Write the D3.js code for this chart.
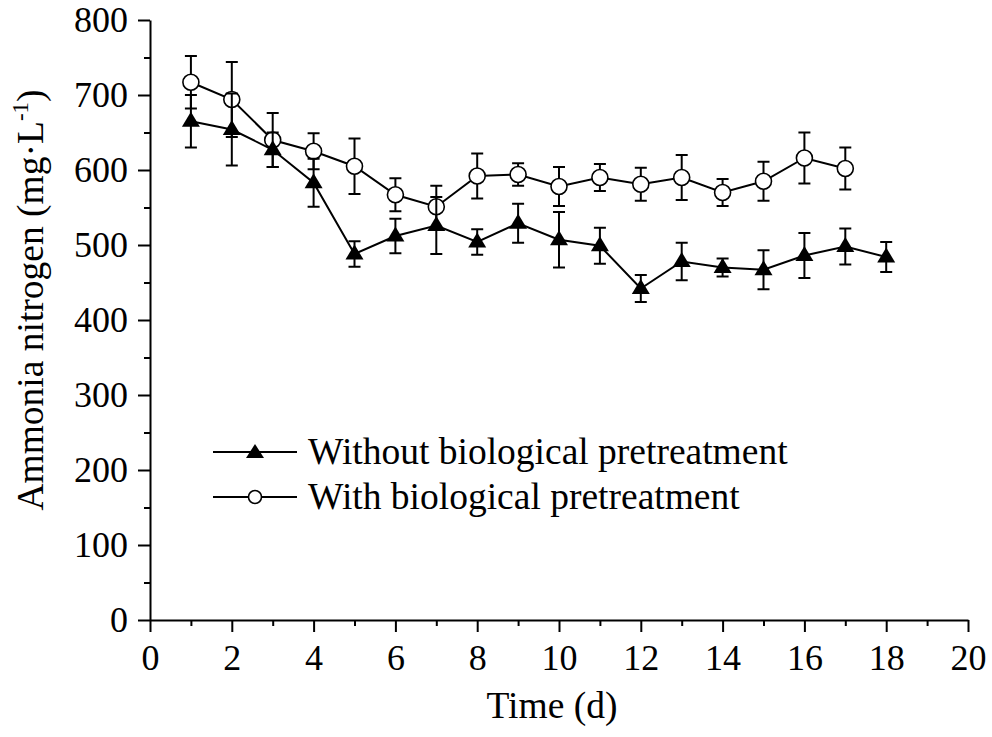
<!DOCTYPE html>
<html>
<head>
<meta charset="utf-8">
<script src="https://cdn.jsdelivr.net/npm/d3@7"></script>
<style>
  body { margin: 0; background: #fff; }
  text { font-family: "Liberation Serif", "Times New Roman", serif; fill: #000; }
</style>
</head>
<body>
<div id="chart"></div>
<script>
// chart data
const daysWithout = [1, 2, 3, 4, 5, 6, 7, 8, 9, 10, 11, 12, 13, 14, 15, 16, 17, 18];
const without = [665, 654, 627, 583, 488, 512, 526, 504, 529, 507, 499, 442, 478, 470, 467, 486, 498, 484];
const withoutErr = [35, 48, 23, 32, 17, 23, 38, 17, 26, 37, 24, 18, 25, 12, 26, 30, 24, 20];

const daysWith = [1, 2, 3, 4, 5, 6, 7, 8, 9, 10, 11, 12, 13, 14, 15, 16, 17];
const withBio = [717, 694, 640, 625, 605, 567, 551, 592, 594, 578, 590, 581, 590, 570, 585, 616, 602];
const withErr = [35, 50, 36, 24, 37, 22, 28, 30, 15, 26, 18, 22, 30, 18, 26, 34, 28];

const xTicks = [0, 2, 4, 6, 8, 10, 12, 14, 16, 18, 20];
const yTicks = [0, 100, 200, 300, 400, 500, 600, 700, 800];
const legendLabels = ["Without biological pretreatment", "With biological pretreatment"];

const width = 992, height = 737;
const margin = {top: 20, right: 24, bottom: 117, left: 150};
const FONT = 36;      // tick labels
const TITLE_FONT = 37.5;  // axis titles + legend

let svg = d3.select("#chart")
    .append("svg")
    .attr("width", width)
    .attr("height", height);

let x = d3.scaleLinear().domain([0, 20]).range([margin.left, width - margin.right]);
let y = d3.scaleLinear().domain([0, 800]).range([height - margin.bottom, margin.top]);

// minor ticks first, majors on top
svg.append("g")
    .attr("transform", `translate(0, ${y(0)})`)
    .call(d3.axisBottom(x).tickValues(d3.range(1, 20, 2)).tickSize(6).tickSizeOuter(0).tickFormat(""))
    .call(g => g.select(".domain").remove());
svg.append("g")
    .attr("transform", `translate(${x(0)}, 0)`)
    .call(d3.axisLeft(y).tickValues(d3.range(50, 800, 100)).tickSize(6).tickSizeOuter(0).tickFormat(""))
    .call(g => g.select(".domain").remove());

let xAxis = svg.append("g")
    .attr("transform", `translate(0, ${y(0)})`)
    .call(d3.axisBottom(x).tickValues(xTicks).tickSize(12).tickPadding(12).tickSizeOuter(0));
let yAxis = svg.append("g")
    .attr("transform", `translate(${x(0)}, 0)`)
    .call(d3.axisLeft(y).tickValues(yTicks).tickSize(12).tickPadding(10).tickSizeOuter(0));

svg.selectAll(".tick line, .domain").attr("stroke", "#000").attr("stroke-width", 2);
svg.selectAll(".tick text").style("font-size", FONT + "px").attr("font-family", null);

// axis titles
svg.append("text")
    .attr("x", 552)
    .attr("y", 718)
    .attr("text-anchor", "middle")
    .style("font-size", TITLE_FONT + "px")
    .text("Time (d)");

let yTitle = svg.append("text")
    .attr("transform", `translate(43, 300) rotate(-90)`)
    .attr("text-anchor", "middle")
    .style("font-size", TITLE_FONT + "px");
yTitle.append("tspan").text("Ammonia nitrogen (mg\u00b7L");
yTitle.append("tspan").attr("dy", -15).style("font-size", "23px").text("-1");
yTitle.append("tspan").attr("dy", 15).text(")");

// triangle, nudged up a little like the figure's symbol
const tri = "M0,-9.5L9,5.5L-9,5.5Z";

function drawSeries(days, vals, errs, kind) {
    let pts = days.map((d, i) => ({d: d, v: vals[i], e: errs[i]}));
    svg.append("path")
        .datum(pts)
        .attr("fill", "none")
        .attr("stroke", "#000")
        .attr("stroke-width", 2)
        .attr("d", d3.line().x(p => x(p.d)).y(p => y(p.v)));

    let markers = svg.append("g");
    if (kind == "tri") {
        markers.selectAll("path").data(pts).enter().append("path")
            .attr("d", tri)
            .attr("transform", p => `translate(${x(p.d)}, ${y(p.v)})`)
            .attr("fill", "#000");
    } else {
        markers.selectAll("circle").data(pts).enter().append("circle")
            .attr("cx", p => x(p.d))
            .attr("cy", p => y(p.v))
            .attr("r", 8)
            .attr("fill", "#fff")
            .attr("stroke", "#000")
            .attr("stroke-width", 1.6);
    }

    // error bars (vertical line + caps)
    let eb = svg.append("g").attr("stroke", "#000").attr("stroke-width", 2);
    pts.forEach(p => {
        let cx = x(p.d), top = y(p.v + p.e), bot = y(p.v - p.e);
        let r = kind == "tri" ? 0 : 8;
        eb.append("line").attr("x1", cx).attr("x2", cx).attr("y1", top).attr("y2", y(p.v) - r);
        eb.append("line").attr("x1", cx).attr("x2", cx).attr("y1", y(p.v) + r).attr("y2", bot);
        eb.append("line").attr("x1", cx - 6).attr("x2", cx + 6).attr("y1", top).attr("y2", top);
        eb.append("line").attr("x1", cx - 6).attr("x2", cx + 6).attr("y1", bot).attr("y2", bot);
    });
}

drawSeries(daysWith, withBio, withErr, "circ");
drawSeries(daysWithout, without, withoutErr, "tri");

// legend
const legendRows = [452, 497];
legendLabels.forEach((label, i) => {
    let ly = legendRows[i];
    svg.append("line")
        .attr("x1", 213).attr("x2", 297)
        .attr("y1", ly).attr("y2", ly)
        .attr("stroke", "#000").attr("stroke-width", 2);
    if (i == 0) {
        svg.append("path").attr("d", "M0,-8L9,6L-9,6Z")
            .attr("transform", `translate(255, ${ly})`).attr("fill", "#000");
    } else {
        svg.append("circle").attr("cx", 255).attr("cy", ly).attr("r", 6.5)
            .attr("fill", "#fff").attr("stroke", "#000").attr("stroke-width", 1.6);
    }
    svg.append("text")
        .attr("x", 308)
        .attr("y", ly + 12)
        .style("font-size", TITLE_FONT + "px")
        .text(label);
});
</script>
</body>
</html>
